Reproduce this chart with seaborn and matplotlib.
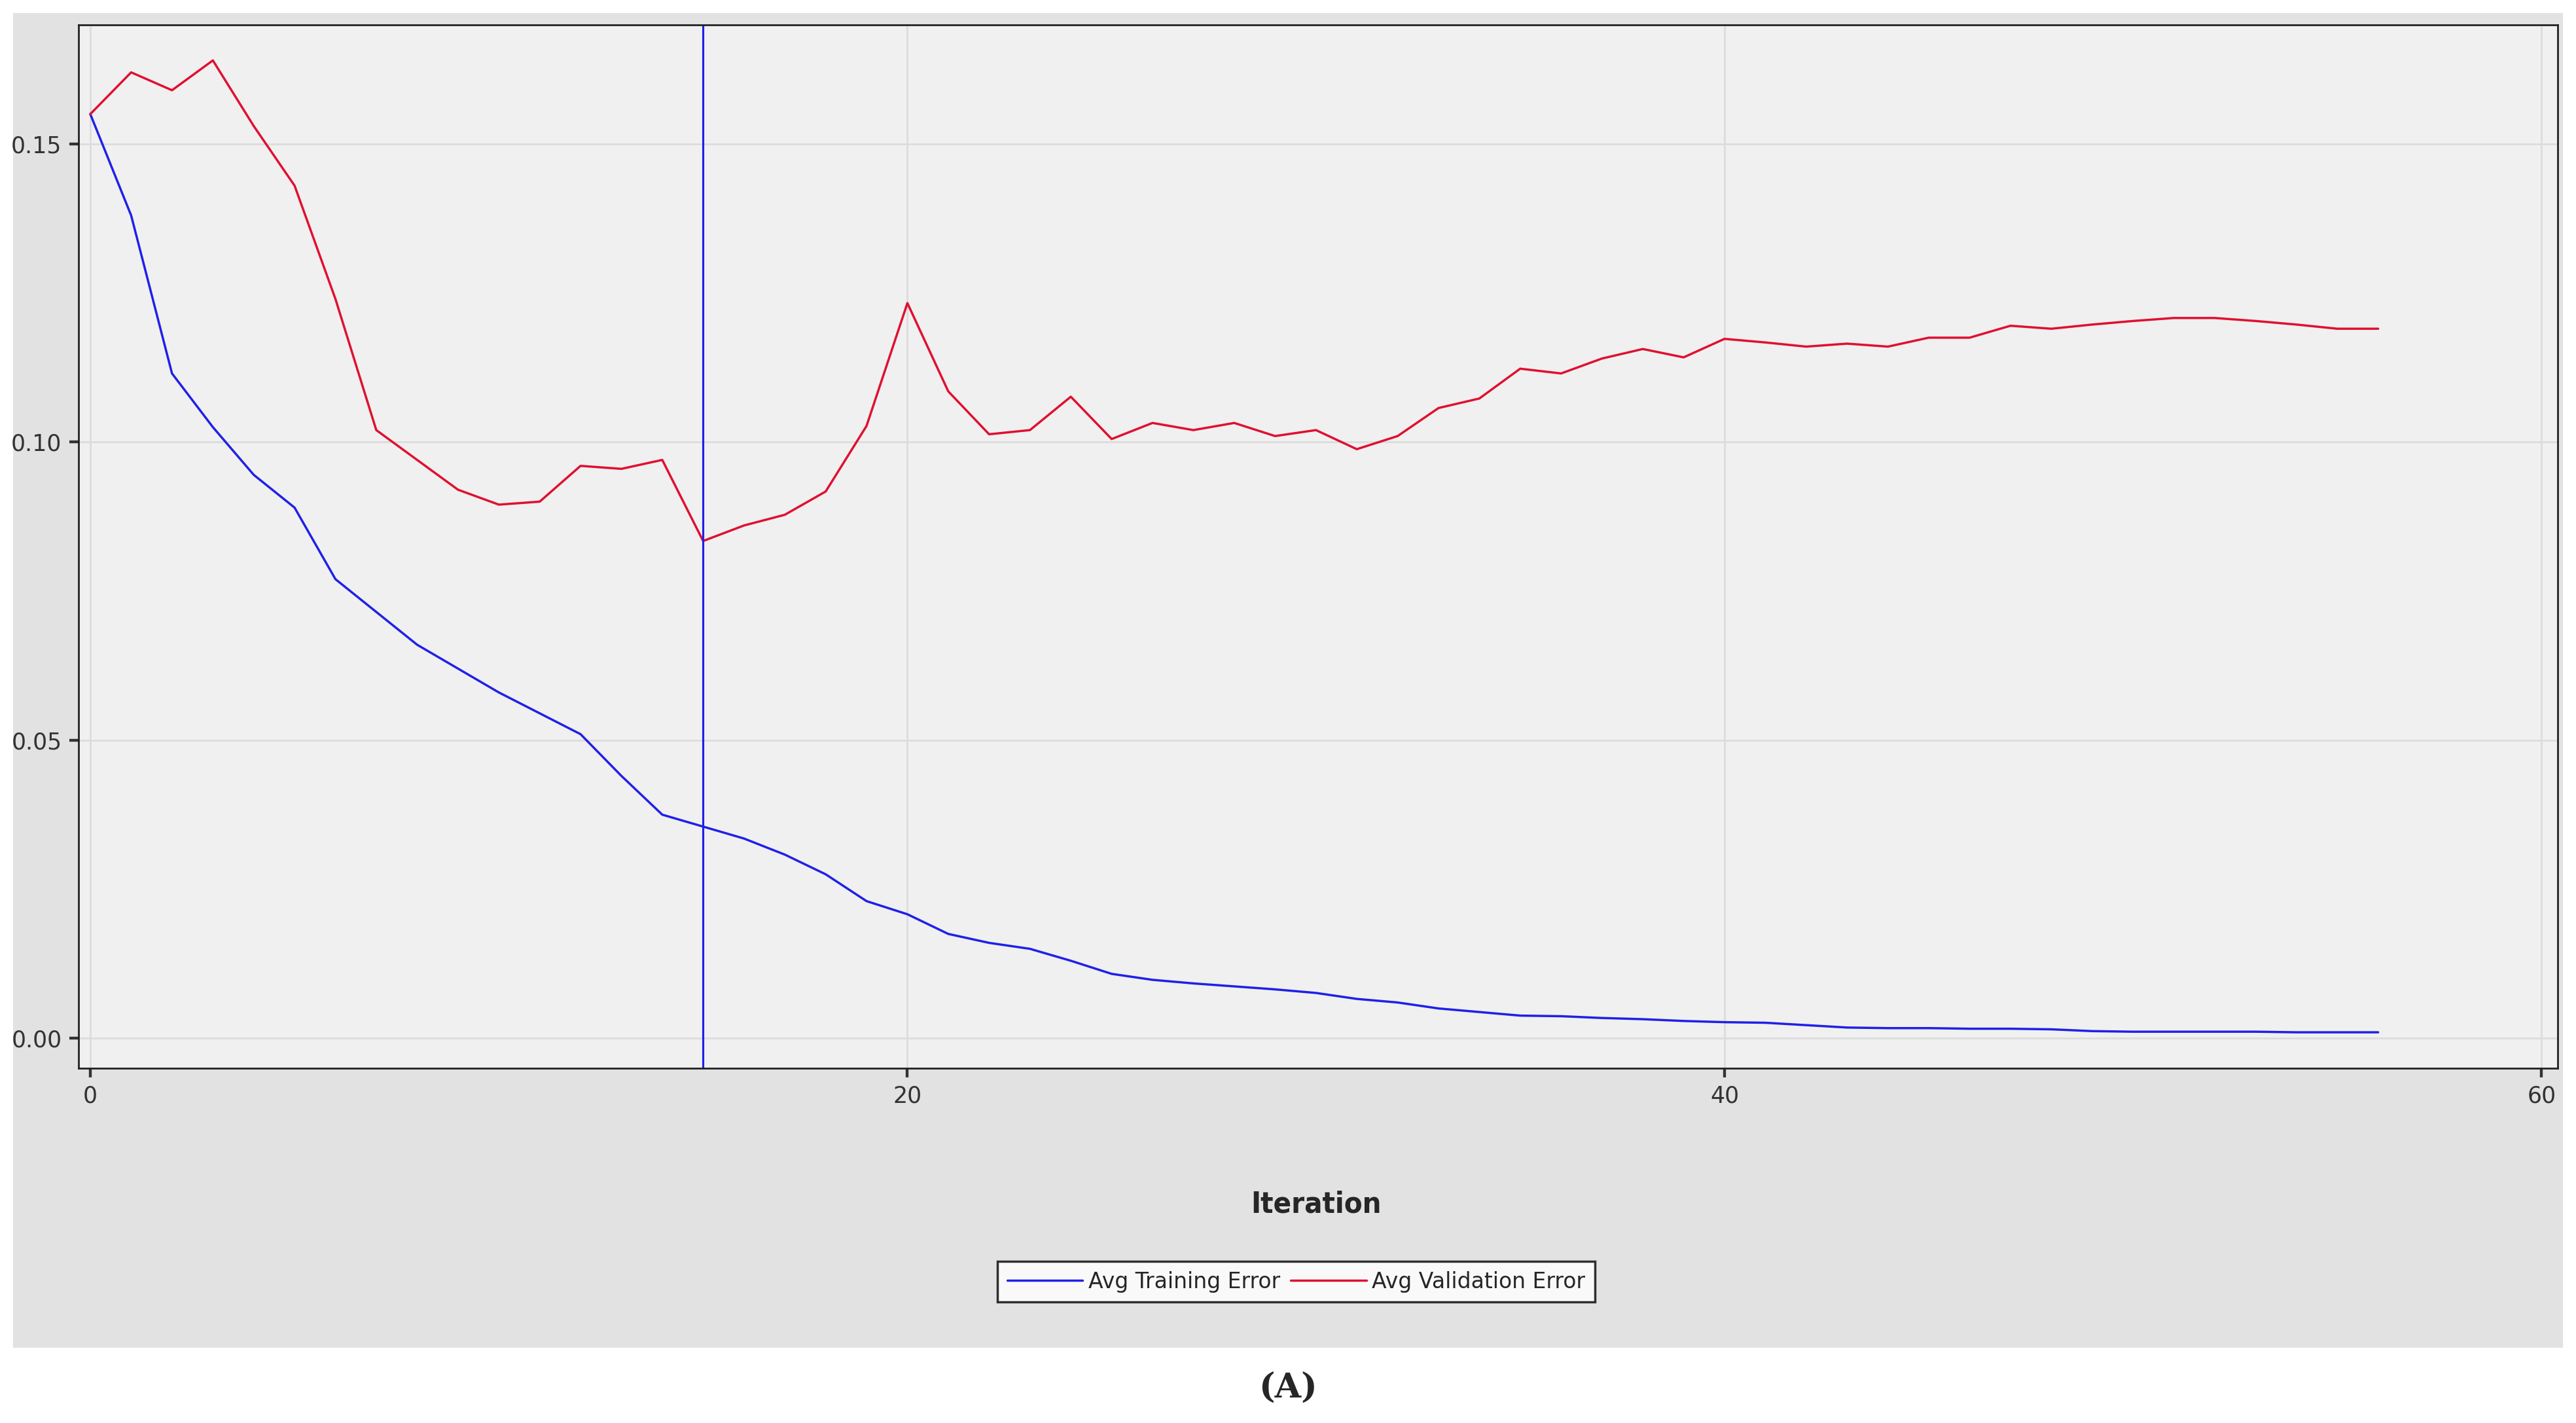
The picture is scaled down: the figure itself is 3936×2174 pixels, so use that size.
import matplotlib
matplotlib.use("Agg")
import matplotlib.pyplot as plt
import seaborn as sns
import pandas as pd
from matplotlib.patches import Rectangle
from matplotlib.lines import Line2D

iterations = list(range(57))
train_err = [0.155, 0.138, 0.1115, 0.1025, 0.0945, 0.089, 0.077, 0.0715, 0.066, 0.062,
             0.058, 0.0545, 0.051, 0.044, 0.0375, 0.0355, 0.0335, 0.0308, 0.0275, 0.023,
             0.0208, 0.0175, 0.016, 0.015, 0.013, 0.0108, 0.0098, 0.0092, 0.0087, 0.0082,
             0.0076, 0.0066, 0.006, 0.005, 0.0044, 0.0038, 0.0037, 0.0034, 0.0032, 0.0029,
             0.0027, 0.0026, 0.0022, 0.0018, 0.0017, 0.0017, 0.0016, 0.0016, 0.0015, 0.0012,
             0.0011, 0.0011, 0.0011, 0.0011, 0.001, 0.001, 0.001]
valid_err = [0.155, 0.162, 0.159, 0.164, 0.153, 0.143, 0.124, 0.102, 0.097, 0.092,
             0.0895, 0.090, 0.096, 0.0955, 0.097, 0.0834, 0.086, 0.0878, 0.0917, 0.1027,
             0.1233, 0.1085, 0.1013, 0.102, 0.1076, 0.1005, 0.1032, 0.102, 0.1032, 0.101,
             0.102, 0.0988, 0.101, 0.1057, 0.1073, 0.1123, 0.1115, 0.114, 0.1156, 0.1142,
             0.1173, 0.1167, 0.116, 0.1165, 0.116, 0.1175, 0.1175, 0.1195, 0.119, 0.1197,
             0.1203, 0.1208, 0.1208, 0.1203, 0.1197, 0.119, 0.119]
selected_iter = 15

sns.set_theme(style="white")
plt.rcParams['font.family'] = ['DejaVu Sans']

df = pd.DataFrame({"Iteration": iterations * 2,
                   "Error": train_err + valid_err,
                   "Series": ["Avg Training Error"] * 57 + ["Avg Validation Error"] * 57})

fig = plt.figure(figsize=(15.744, 8.696), dpi=250)
fig.patches.append(Rectangle((8/1568, 1-820/866), 1552/1568, 812/866,
                             transform=fig.transFigure, facecolor="#e2e2e2", edgecolor="none", zorder=-10))
ax = fig.add_axes([48/1568, 1-650/866, 1509/1568, 635/866])
ax.set_facecolor("#f0f0f0")
sns.lineplot(data=df, x="Iteration", y="Error", hue="Series",
             palette={"Avg Training Error": "#2020e8", "Avg Validation Error": "#e01030"},
             linewidth=1.0, ax=ax, legend=False)
ax.axvline(selected_iter, color="#2020e8", linewidth=0.9)
ax.set_xlim(-0.28, 60.4)
ax.set_ylim(-0.005, 0.170)
ax.set_xticks([0, 20, 40, 60])
ax.set_yticks([0.0, 0.05, 0.10, 0.15])
ax.set_yticklabels(["0.00", "0.05", "0.10", "0.15"])
ax.grid(True, color="#dcdcdc", linewidth=0.8)
ax.tick_params(axis="both", labelsize=10, length=4, left=True, bottom=True, colors="#333333")
for s in ax.spines.values():
    s.set_color("#222222"); s.set_linewidth(0.8)
ax.set_xlabel("")
ax.set_ylabel("")
fig.text(801/1568, 1-733/866, "Iteration", ha="center", va="center",
         fontsize=13, fontweight="bold", fontstretch="condensed")
handles = [Line2D([], [], color="#2020e8", lw=1), Line2D([], [], color="#e01030", lw=1)]
leg = fig.legend(handles, ["Avg Training Error", "Avg Validation Error"], loc="center",
                 bbox_to_anchor=(789/1568, 1-780/866), ncol=2, frameon=True, fontsize=9.5,
                 fancybox=False, handlelength=3.5, columnspacing=0.5, handletextpad=0.25,
                 borderpad=0.45)
leg.get_frame().set_edgecolor("black")
leg.get_frame().set_facecolor("white")
fig.text(784/1568, 1-845/866, "(A)", ha="center", va="center", fontsize=15,
         fontweight="bold", family="DejaVu Serif")
fig.savefig("out.png", dpi=250)
